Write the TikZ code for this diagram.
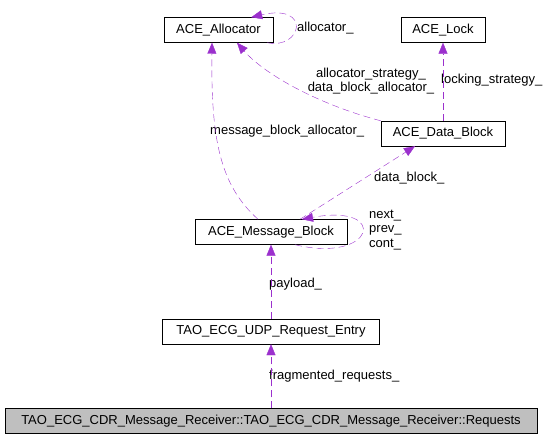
\documentclass[tikz,border=0pt]{standalone}
\usepackage{fontspec}
\setmainfont{Liberation Sans}
\usetikzlibrary{positioning,arrows.meta}
\definecolor{edgepurple}{RGB}{155,48,205}
\definecolor{boxgray}{RGB}{191,191,191}

\begin{document}
\begin{tikzpicture}[x=1pt,y=-1pt,on grid,
    font=\fontsize{13}{14.5}\selectfont,
    cls/.style={draw,minimum height=25pt,inner sep=0pt},
    dep/.style={draw=edgepurple,dash pattern=on 7pt off 4pt,
        -{Triangle[length=11pt,width=9pt]}},
    lbl/.style={anchor=west,inner sep=0pt,align=left}]
    \useasboundingbox (0,0) rectangle (552,439);

    \node[cls,minimum width=109pt] (alloc) at (218.5,30) {ACE\_Allocator};
    \node[cls,minimum width=84pt] (lock) [right=224.5pt of alloc] {ACE\_Lock};
    \node[cls,minimum width=124pt] (data) [below=103.5pt of lock] {ACE\_Data\_Block};
    \node[cls,minimum width=152pt] (msg) [below right=202pt and 52.5pt of alloc] {ACE\_Message\_Block};
    \node[cls,minimum width=217pt] (udp) [below=99.5pt of msg] {TAO\_ECG\_UDP\_Request\_Entry};
    \node[cls,minimum width=532pt,fill=boxgray] (req) [below=89.5pt of udp]
        {TAO\_ECG\_CDR\_Message\_Receiver::TAO\_ECG\_CDR\_Message\_Receiver::Requests};

    \node[lbl] (lalloc) at (297,28) {allocator\_};
    \node[align=center,inner sep=0pt] (lstrat) at (371,81) {allocator\_strategy\_\\data\_block\_allocator\_};
    \node[lbl] (llock) at (441,80) {locking\_strategy\_};
    \node[lbl] (lmsgalloc) at (210,131) {message\_block\_allocator\_};
    \node[lbl] (ldata) at (374,178) {data\_block\_};
    \node[lbl] (lnext) at (369,230) {next\_\\prev\_\\cont\_};
    \node[lbl] (lpay) at (269,284) {payload\_};
    \node[lbl] (lfrag) at (269,376) {fragmented\_requests\_};

    \draw[dep] ([xshift=-6pt]alloc.south east) .. controls (302,50) and (312,3) .. ([xshift=-22pt]alloc.north east);
    \draw[dep] (data.north west) .. controls (320,105) and (265,75) .. ([xshift=18.5pt]alloc.south);
    \draw[dep] (data.north) -- (lock.south);
    \draw[dep] ([xshift=-13pt]msg.north) .. controls (220,185) and (211,140) .. ([xshift=-6.5pt]alloc.south);
    \draw[dep] ([xshift=29pt]msg.north) -- ([xshift=-28pt]data.south);
    \draw[dep] ([xshift=24pt]msg.south) .. controls (375,264) and (390,203) .. ([xshift=31pt]msg.north);
    \draw[dep] (udp.north) -- (msg.south);
    \draw[dep] (req.north) -- (udp.south);
\end{tikzpicture}
\end{document}
